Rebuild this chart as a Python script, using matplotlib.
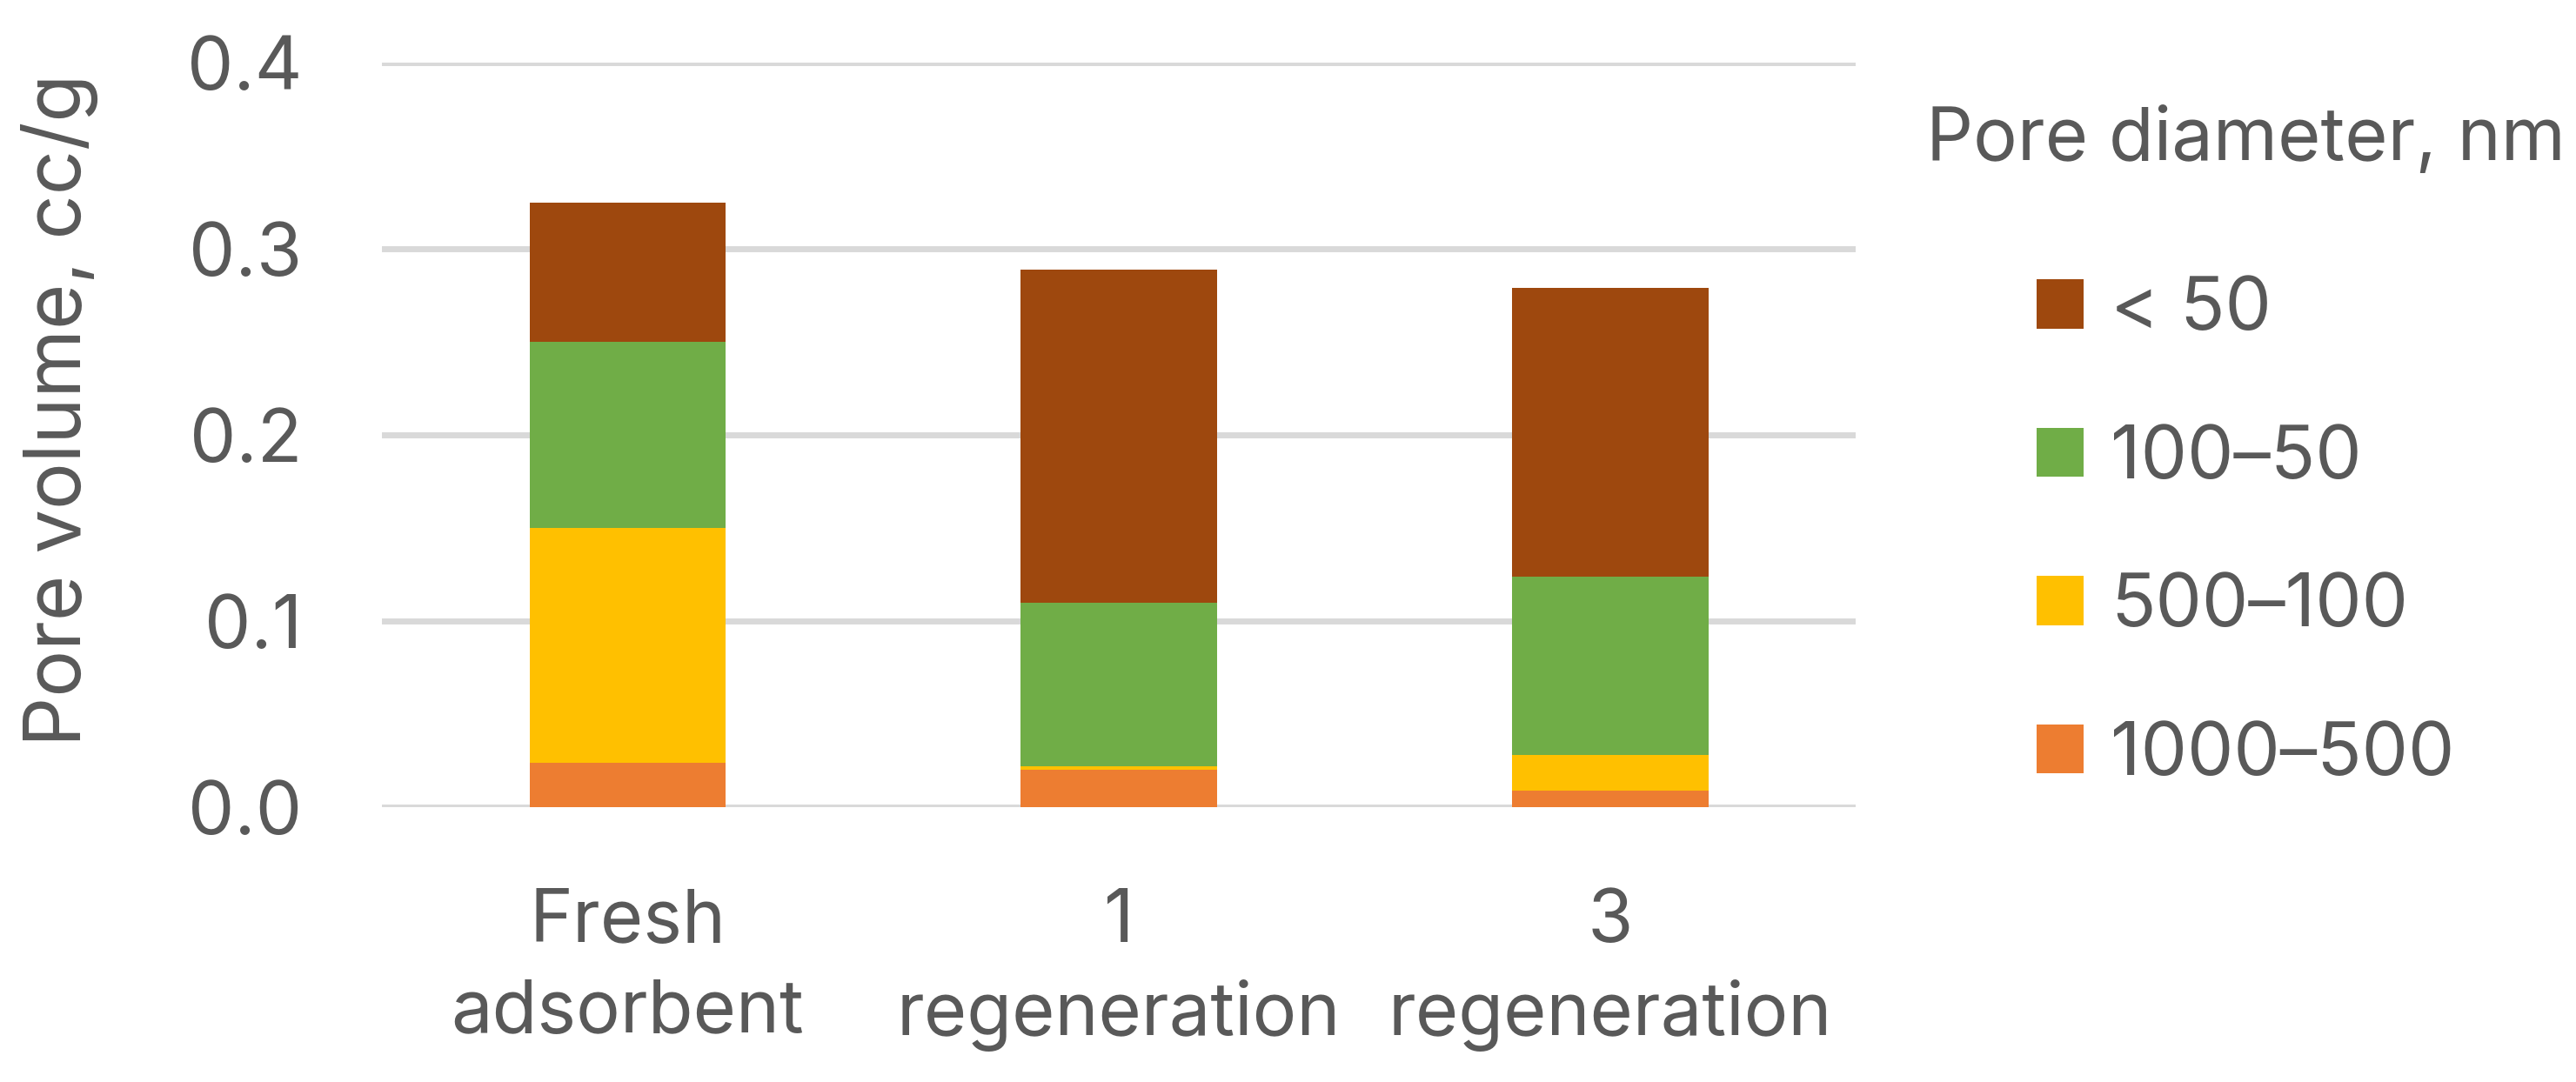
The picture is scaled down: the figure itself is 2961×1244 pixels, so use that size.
import matplotlib
matplotlib.use("Agg")
import matplotlib.pyplot as plt
import numpy as np

categories = ["Fresh\nadsorbent", "1\nregeneration", "3\nregeneration"]
series_names = ["1000\u2013500", "500\u2013100", "100\u201350", "< 50"]
v_1000_500 = [0.024, 0.020, 0.009]
v_500_100 = [0.126, 0.002, 0.019]
v_100_50 = [0.100, 0.088, 0.096]
v_lt50 = [0.075, 0.179, 0.155]
series_values = [v_1000_500, v_500_100, v_100_50, v_lt50]
colors = ["#ED7D31", "#FFC000", "#70AD47", "#9E480E"]
yticks = [0.0, 0.1, 0.2, 0.3, 0.4]

TEXT = "#595959"
FS = 61
plt.rcParams['font.family'] = ['Inter', 'DejaVu Sans']

fig = plt.figure(figsize=(29.61, 12.44), dpi=100)
ax = fig.add_axes([0.1483, 0.2540, 0.7204 - 0.1483, 0.9421 - 0.2540])

x = np.arange(len(categories))
bottom = np.zeros(len(categories))
handles = []
for name, vals, c in zip(series_names, series_values, colors):
    h = ax.bar(x, vals, width=0.40, bottom=bottom, color=c, label=name,
               edgecolor='none', zorder=3)
    handles.append(h)
    bottom += np.array(vals)

ax.set_xlim(-0.5, 2.5)
ax.set_ylim(0, 0.4)
ax.set_yticks(yticks)
ax.set_yticklabels([f"{t:.1f}" for t in yticks])
ax.set_xticks(x)
ax.set_xticklabels(categories, linespacing=1.4)
ax.yaxis.grid(True, color="#D9D9D9", linewidth=5, zorder=0)
ax.set_axisbelow(True)
for s in ax.spines.values():
    s.set_visible(False)
ax.tick_params(axis='both', length=0, labelsize=FS, colors=TEXT)
ax.tick_params(axis='y', pad=66)
ax.tick_params(axis='x', pad=67)

ax.set_ylabel("Pore volume, cc/g", fontsize=FS * 1.06, color=TEXT,
              va='center', ha='center')
ax.yaxis.set_label_coords(-0.219, 0.533)

leg = ax.legend(handles[::-1], series_names[::-1], title="Pore diameter, nm",
                loc='center', bbox_to_anchor=(0.8717, 0.586),
                bbox_transform=fig.transFigure, frameon=False,
                fontsize=FS, title_fontsize=FS,
                handlelength=0.64, handleheight=0.65, handletextpad=0.37,
                labelspacing=1.08, borderpad=0.2)
leg._legend_box.sep = FS * 1.45 - 5
for t in leg.get_texts():
    t.set_color(TEXT)
leg.get_title().set_color(TEXT)

fig.savefig("out.png", dpi=100, facecolor='white')
